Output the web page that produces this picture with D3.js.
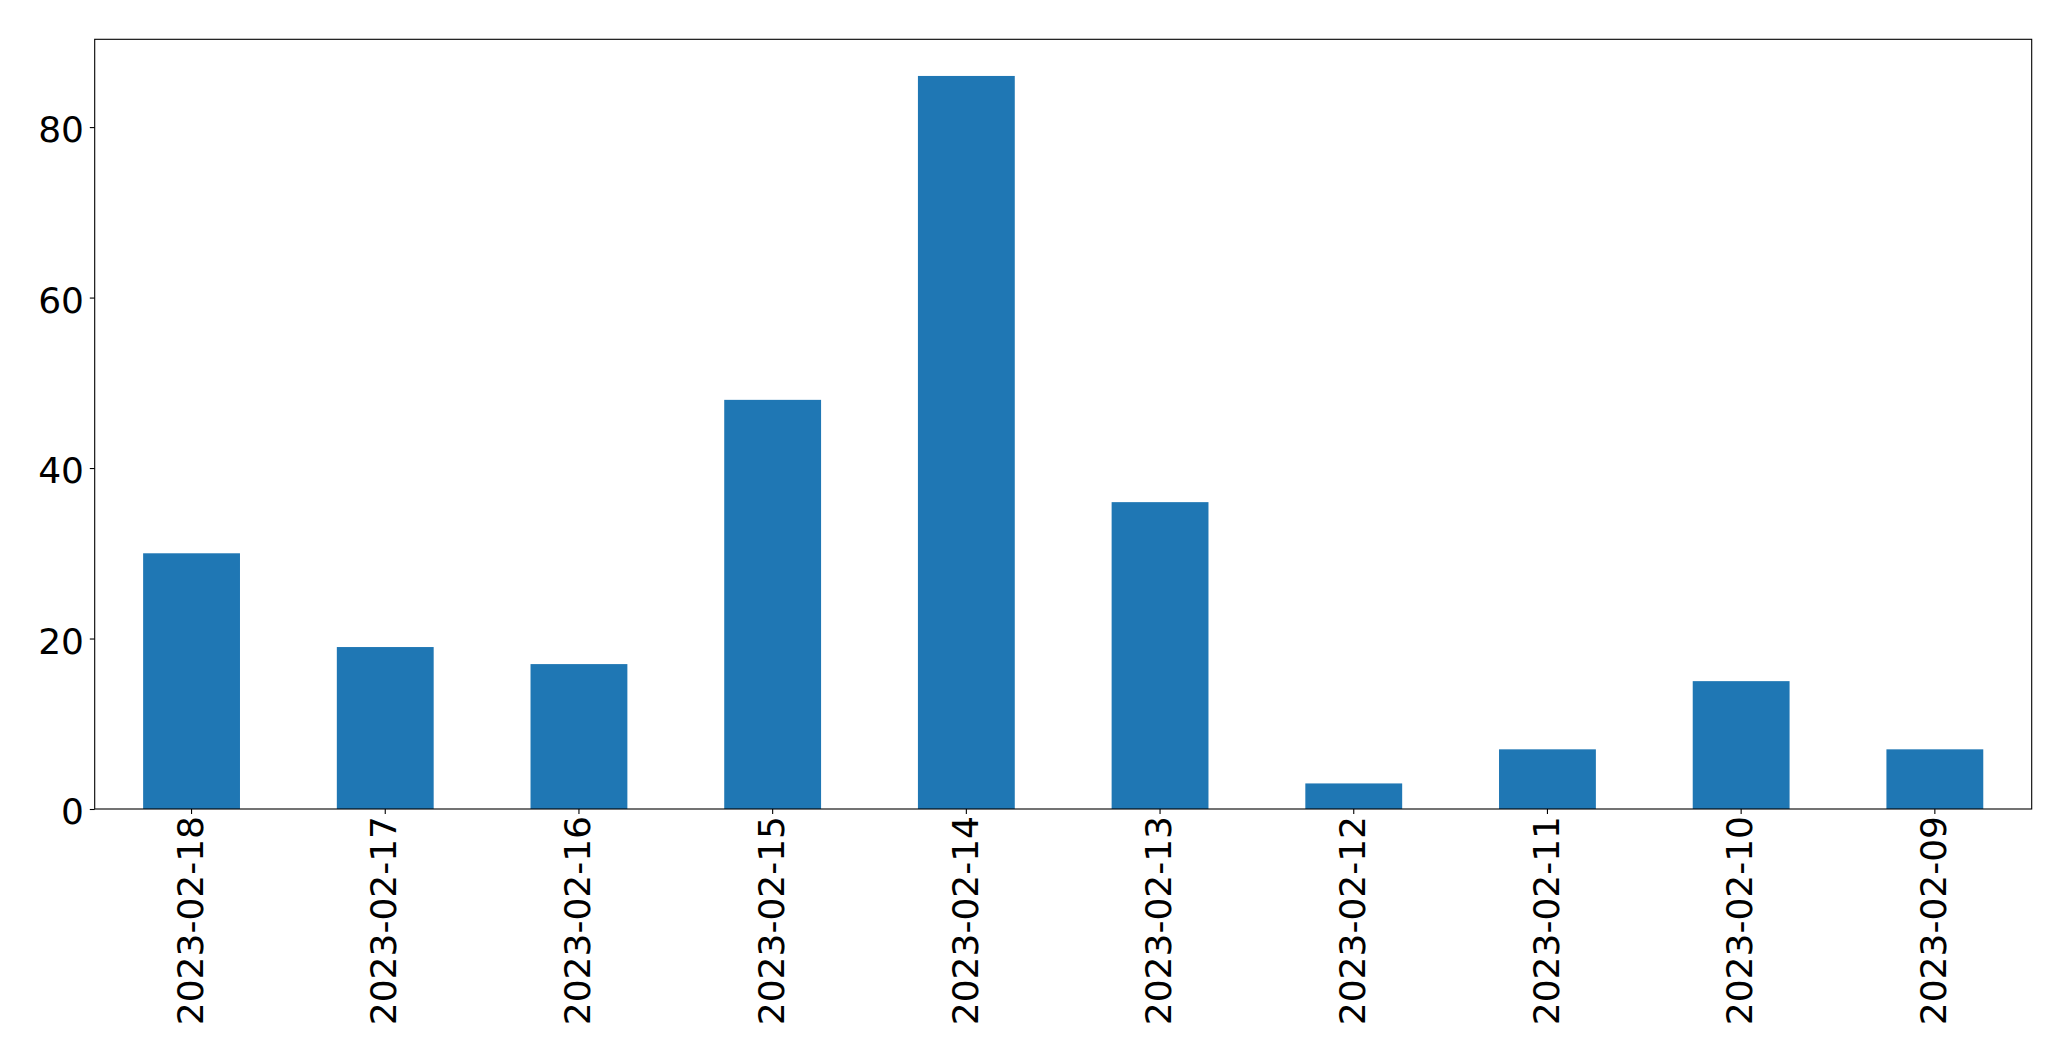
<!DOCTYPE html>
<html>
<head>
<meta charset="utf-8">
<script src="https://cdn.jsdelivr.net/npm/d3@7"></script>
<style>
  html, body { margin: 0; padding: 0; background: #fff; }
  svg { display: block; }
  text { font-family: "DejaVu Sans", sans-serif; }
</style>
</head>
<body>
<svg id="chart" width="2071" height="1061"></svg>
<script>
const categories = ["2023-02-18", "2023-02-17", "2023-02-16", "2023-02-15", "2023-02-14",
                    "2023-02-13", "2023-02-12", "2023-02-11", "2023-02-10", "2023-02-09"];
const values = [30, 19, 17, 48, 86, 36, 3, 7, 15, 7];
const yTicks = [0, 20, 40, 60, 80];

const W = 2071, H = 1061;
const m = { left: 94.7, right: 2031.7, top: 39.3, bottom: 809 };
const fontSize = 36;
const tickLen = 4.9;

const svg = d3.select("#chart");
svg.append("rect").attr("width", W).attr("height", H).attr("fill", "#fff");

const x = d3.scaleBand()
  .domain(categories)
  .range([m.left, m.right])
  .paddingInner(0.5)
  .paddingOuter(0.25);

const y = d3.scaleLinear()
  .domain([0, d3.max(values) * 1.05])
  .range([m.bottom, m.top]);

// bars
svg.append("g").selectAll("rect")
  .data(categories.map((c, i) => ({ c, v: values[i] })))
  .join("rect")
  .attr("x", d => x(d.c))
  .attr("width", x.bandwidth())
  .attr("y", d => y(d.v))
  .attr("height", d => y(0) - y(d.v))
  .attr("fill", "#1f77b4");

// y axis
const yAxis = svg.append("g")
  .attr("transform", `translate(${m.left},0)`)
  .call(d3.axisLeft(y).tickValues(yTicks).tickSize(tickLen).tickSizeOuter(0).tickPadding(0));
yAxis.select(".domain").remove();
yAxis.selectAll(".tick line").attr("stroke", "#000").attr("stroke-width", 1.1);
yAxis.selectAll(".tick text")
  .attr("x", -10.7)
  .attr("dy", "0.41em")
  .attr("fill", "#000")
  .style("font-size", fontSize + "px")
  .style("font-family", "DejaVu Sans");

// x axis
const xAxis = svg.append("g")
  .attr("transform", `translate(0,${m.bottom})`)
  .call(d3.axisBottom(x).tickSize(tickLen).tickSizeOuter(0).tickPadding(0));
xAxis.select(".domain").remove();
xAxis.selectAll(".tick line").attr("stroke", "#000").attr("stroke-width", 1.1);
xAxis.selectAll(".tick text")
  .attr("transform", "translate(0,7) rotate(-90)")
  .attr("x", 0)
  .attr("y", 0)
  .attr("dy", "0.31em")
  .attr("text-anchor", "end")
  .attr("fill", "#000")
  .style("font-size", fontSize + "px")
  .style("font-family", "DejaVu Sans");

// frame
svg.append("rect")
  .attr("x", m.left)
  .attr("y", m.top)
  .attr("width", m.right - m.left)
  .attr("height", m.bottom - m.top)
  .attr("fill", "none")
  .attr("stroke", "#000")
  .attr("stroke-width", 1.1);
</script>
</body>
</html>
